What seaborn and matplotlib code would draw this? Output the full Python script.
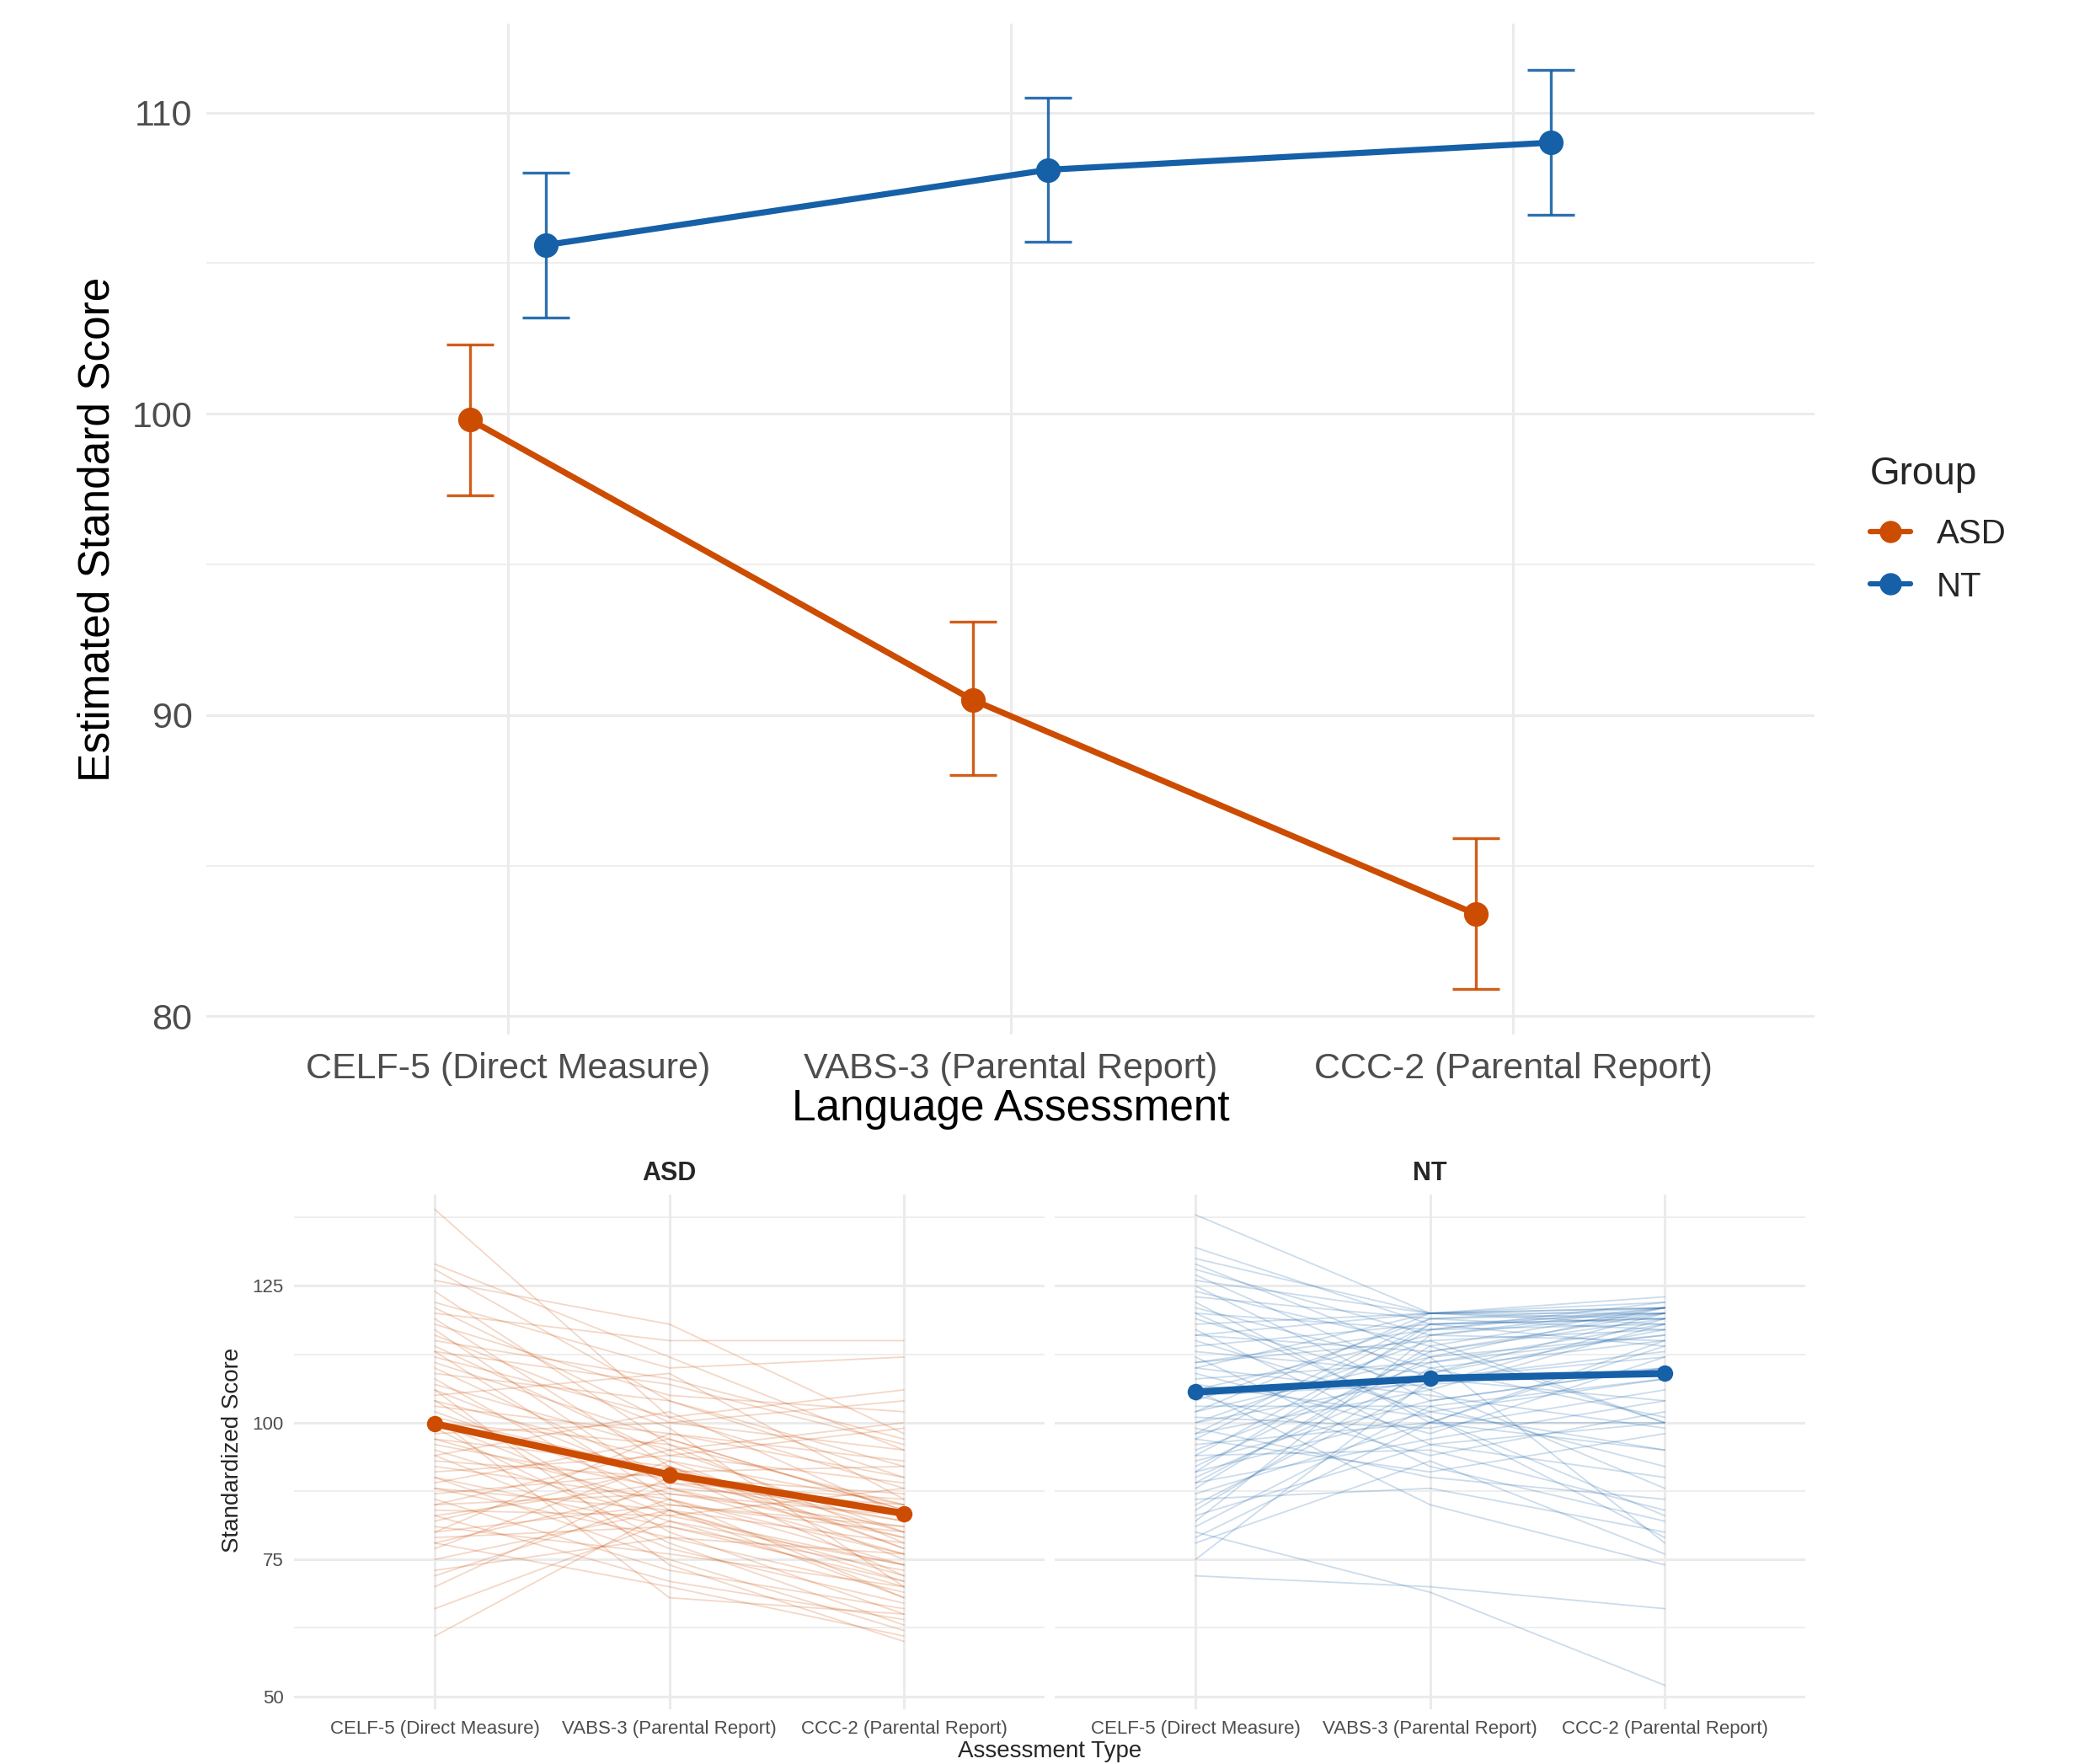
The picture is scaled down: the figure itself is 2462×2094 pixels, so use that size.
import numpy as np
import pandas as pd
import matplotlib
matplotlib.use("Agg")
import matplotlib.pyplot as plt
from matplotlib.lines import Line2D
import seaborn as sns

# --- data -------------------------------------------------------------
assessments = ["CELF-5 (Direct Measure)", "VABS-3 (Parental Report)", "CCC-2 (Parental Report)"]
groups = ["ASD", "NT"]
colors = {"ASD": "#CC4C02", "NT": "#1660A8"}

# model estimates with error bars (top panel)
asd_est = [99.8, 90.5, 83.4]
asd_lo = [97.3, 88.0, 80.9]
asd_hi = [102.3, 93.1, 85.9]
nt_est = [105.6, 108.1, 109.0]
nt_lo = [103.2, 105.7, 106.6]
nt_hi = [108.0, 110.5, 111.4]

# individual trajectories (bottom panels), one entry per child
asd_celf = [139, 129, 128, 126, 124, 122, 120, 119, 118, 117, 116, 115, 114, 113, 112, 111, 110, 109,
            108, 107, 106, 105, 104, 104, 103, 102, 101, 100, 100, 99, 98, 97, 97, 96, 95, 94, 94, 93,
            92, 91, 90, 90, 89, 88, 88, 87, 86, 85, 85, 84, 83, 83, 82, 81, 80, 80, 79, 78, 78, 77,
            75, 73, 72, 70, 66, 61, 121, 113, 106, 101]
asd_vabs = [101, 112, 104, 118, 96, 110, 115, 92, 105, 88, 99, 108, 94, 86, 101, 97, 90, 104,
            84, 95, 89, 109, 93, 80, 98, 87, 91, 83, 96, 78, 100, 85, 92, 88, 82, 102, 77, 90,
            86, 94, 81, 75, 97, 84, 79, 91, 73, 87, 95, 83, 71, 89, 92, 76, 85, 98, 81, 88, 70, 93,
            84, 79, 86, 90, 82, 84, 100, 107, 74, 68]
asd_ccc = [88, 95, 92, 98, 85, 112, 115, 80, 102, 76, 70, 97, 89, 74, 106, 84, 79, 90,
           68, 100, 82, 86, 77, 65, 93, 81, 72, 88, 78, 63, 95, 80, 75, 85, 70, 83, 67, 87,
           76, 99, 71, 62, 84, 78, 69, 92, 66, 83, 80, 74, 64, 86, 77, 70, 81, 90, 73, 79, 61, 85,
           72, 76, 68, 82, 74, 71, 104, 96, 60, 65]

nt_celf = [138, 132, 130, 129, 128, 127, 126, 125, 124, 123, 122, 121, 120, 119, 118, 117, 116, 115,
           114, 113, 112, 111, 110, 110, 109, 108, 107, 106, 105, 105, 104, 103, 102, 101, 100, 100,
           99, 98, 97, 96, 95, 94, 93, 92, 91, 90, 89, 88, 87, 86, 85, 84, 83, 82, 81, 80, 79, 78,
           75, 72, 116, 111, 102, 98, 94, 91, 106, 120, 97, 89]
nt_vabs = [120, 118, 120, 112, 116, 108, 120, 104, 114, 119, 100, 110, 117, 106, 120, 96, 113, 102,
           118, 109, 92, 115, 105, 120, 98, 111, 101, 116, 107, 94, 119, 103, 112, 99, 108, 115,
           90, 106, 118, 100, 111, 95, 104, 113, 102, 109, 97, 114, 100, 88, 107, 110, 96, 116, 103,
           69, 100, 93, 108, 70, 120, 117, 120, 119, 117, 118, 85, 101, 91, 112]
nt_ccc = [121, 119, 122, 116, 120, 104, 118, 110, 121, 117, 95, 115, 121, 88, 123, 100, 119, 108,
          114, 120, 82, 117, 99, 121, 112, 118, 79, 115, 110, 102, 120, 92, 121, 106, 113, 100,
          86, 118, 119, 100, 116, 84, 110, 120, 95, 117, 104, 100, 114, 80, 119, 101, 90, 121, 108,
          52, 115, 76, 112, 66, 120, 122, 119, 121, 118, 120, 74, 83, 98, 78]

# --- style ------------------------------------------------------------
sns.set_theme(style="white")
plt.rcParams["font.family"] = ["Liberation Sans", "DejaVu Sans"]

GRID = "#EBEBEB"
TICK = "#4D4D4D"


def minimal_axes(ax, xpos, yticks, yminor, tick_size, show_ylabels=True):
    for s in ax.spines.values():
        s.set_visible(False)
    ax.set_xticks(xpos)
    ax.set_xticklabels(assessments)
    ax.set_yticks(yticks)
    ax.set_yticks(yminor, minor=True)
    if not show_ylabels:
        ax.set_yticklabels([])
    ax.tick_params(which="both", length=0, labelsize=tick_size, colors=TICK)
    ax.grid(which="major", axis="both", color=GRID, lw=2.2)
    ax.grid(which="minor", axis="y", color=GRID, lw=1.2)
    ax.set_axisbelow(True)
    ax.set_xlim(-0.6, 2.6)


fig = plt.figure(figsize=(24.62, 20.94), dpi=100)

# --- top panel: estimated scores -------------------------------------
ax = fig.add_axes([0.0995, 0.4136, 0.7755, 0.5730])
xpos = np.arange(len(assessments))
dodge = {"ASD": -0.075, "NT": 0.075}
top = {"ASD": (asd_est, asd_lo, asd_hi), "NT": (nt_est, nt_lo, nt_hi)}

for g in groups:
    est, lo, hi = (np.array(v) for v in top[g])
    xs = xpos + dodge[g]
    ax.errorbar(xs, est, yerr=[est - lo, hi - est], fmt="none", ecolor=colors[g],
                elinewidth=2.4, capsize=20, capthick=2.4, alpha=0.9, zorder=2)
    sns.lineplot(x=xs, y=est, color=colors[g], lw=5.2, marker="o", markersize=21,
                 markeredgewidth=0, ax=ax, zorder=3)

minimal_axes(ax, xpos, [80, 90, 100, 110], [85, 95, 105], 31)
ax.set_ylim(79.4, 112.95)
ax.tick_params(axis="x", pad=15)
ax.tick_params(axis="y", pad=12)
ax.set_xlabel("Language Assessment", fontsize=37, labelpad=2, color="black")
ax.set_ylabel("Estimated Standard Score", fontsize=37, labelpad=12, color="black")

handles = [Line2D([0], [0], color=colors[g], lw=4.5, marker="o", markersize=19, markeredgewidth=0)
           for g in groups]
leg = fig.legend(handles, groups, title="Group", loc="center left",
                 bbox_to_anchor=(0.887, 0.700), frameon=False, fontsize=29,
                 title_fontsize=33, handlelength=1.2, handletextpad=0.75, labelspacing=0.6)
leg._legend_box.align = "left"
leg._legend_box.sep = 22

# --- bottom panels: individual trajectories --------------------------
indiv = {"ASD": (asd_celf, asd_vabs, asd_ccc), "NT": (nt_celf, nt_vabs, nt_ccc)}
means = {"ASD": asd_est, "NT": nt_est}
panel_boxes = {"ASD": [0.1418, 0.031, 0.3619, 0.2918], "NT": [0.5086, 0.031, 0.3619, 0.2918]}

for g in groups:
    bax = fig.add_axes(panel_boxes[g])
    cols = indiv[g]
    n = len(cols[0])
    df = pd.DataFrame({
        "subject": np.tile(np.arange(n), 3),
        "x": np.repeat(xpos, n),
        "score": np.concatenate(cols),
    })
    sns.lineplot(data=df, x="x", y="score", units="subject", estimator=None,
                 color=colors[g], alpha=0.22, lw=1.3, ax=bax)
    sns.lineplot(x=xpos, y=means[g], color=colors[g], lw=6, marker="o", markersize=14,
                 markeredgewidth=0, ax=bax, zorder=5)
    minimal_axes(bax, xpos, [50, 75, 100, 125], [62.5, 87.5, 112.5, 137.5], 16,
                 show_ylabels=(g == "ASD"))
    bax.set_ylim(47.6, 141.7)
    bax.tick_params(axis="x", pad=9)
    bax.tick_params(axis="y", pad=9)
    bax.set_xlabel("")
    bax.set_ylabel("")
    bax.set_title(g, fontsize=22, fontweight="bold", pad=12)

fig.text(0.112, 0.178, "Standardized Score", rotation=90, fontsize=20, ha="center", va="center")
fig.text(0.506, 0.0072, "Assessment Type", fontsize=20, ha="center", va="center")

fig.savefig("out.png", dpi=100)
